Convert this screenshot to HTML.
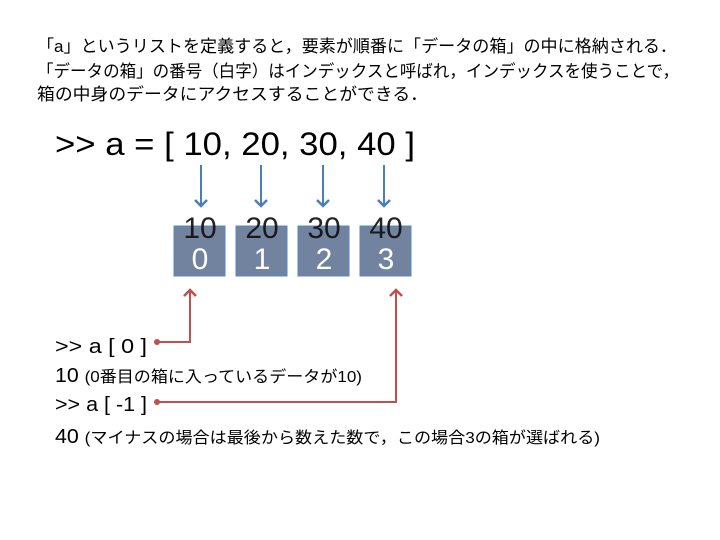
<!DOCTYPE html>
<html><head><meta charset="utf-8"><style>
html,body{margin:0;padding:0;background:#fff;}
svg{display:block;}
text{font-family:"Liberation Sans","Noto Sans CJK JP",sans-serif;}
</style></head><body>
<svg width="720" height="540" viewBox="0 0 720 540" xmlns="http://www.w3.org/2000/svg">
<defs>
<marker id="bh" markerWidth="14" markerHeight="14" refX="7" refY="7" orient="auto" markerUnits="userSpaceOnUse"><path d="M1,1 L7,7 L1,13" fill="none" stroke="#4a7ebb" stroke-width="2.5"/></marker>
<marker id="rh" markerWidth="14" markerHeight="14" refX="7" refY="7" orient="auto" markerUnits="userSpaceOnUse"><path d="M1,1 L7,7 L1,13" fill="none" stroke="#c0504d" stroke-width="2.5"/></marker>
</defs>
<g font-size="17" fill="#000">
<text x="37" y="52" textLength="640" lengthAdjust="spacingAndGlyphs">「a」というリストを定義すると，要素が順番に「データの箱」の中に格納される．</text>
<text x="37" y="77" textLength="642" lengthAdjust="spacingAndGlyphs">「データの箱」の番号（白字）はインデックスと呼ばれ，インデックスを使うことで，</text>
<text x="37" y="100" textLength="391" lengthAdjust="spacingAndGlyphs">箱の中身のデータにアクセスすることができる．</text>
</g>
<text x="55" y="155" font-size="32" textLength="360" lengthAdjust="spacingAndGlyphs">&gt;&gt; a =  [ 10,  20,  30,  40 ]</text>
<g stroke="#4a7ebb" stroke-width="2" marker-end="url(#bh)">
<line x1="201" y1="165" x2="201" y2="206"/>
<line x1="261" y1="165" x2="261" y2="206"/>
<line x1="323" y1="165" x2="323" y2="206"/>
<line x1="384" y1="165" x2="384" y2="206"/>
</g>
<g fill="#71839f" stroke="#5b86c6" stroke-width="1">
<rect x="174" y="226" width="51" height="50"/>
<rect x="236" y="226" width="51" height="50"/>
<rect x="298" y="226" width="51" height="50"/>
<rect x="360" y="226" width="51" height="50"/>
</g>
<g font-size="30" fill="#111" text-anchor="middle" opacity="0.92">
<text x="200" y="238">10</text><text x="262" y="238">20</text><text x="324" y="238">30</text><text x="386" y="238">40</text>
</g>
<g font-size="30" fill="#fff" text-anchor="middle">
<text x="200" y="269">0</text><text x="262" y="269">1</text><text x="324" y="269">2</text><text x="386" y="269">3</text>
</g>
<g stroke="#c0504d" stroke-width="2" fill="none">
<polyline points="157,342 190,342 190,290" marker-end="url(#rh)"/>
<polyline points="157,402 396,402 396,290" marker-end="url(#rh)"/>
</g>
<circle cx="157" cy="342" r="3" fill="#c0504d"/>
<circle cx="157" cy="402" r="3" fill="#c0504d"/>
<text x="55" y="353" font-size="20" textLength="92" lengthAdjust="spacingAndGlyphs">&gt;&gt; a [ 0 ]</text>
<text x="55" y="382" font-size="20" textLength="307" lengthAdjust="spacingAndGlyphs">10 <tspan font-size="16">(0番目の箱に入っているデータが10)</tspan></text>
<text x="55" y="411" font-size="20" textLength="92" lengthAdjust="spacingAndGlyphs">&gt;&gt; a [ -1 ]</text>
<text x="55" y="443" font-size="20" textLength="545" lengthAdjust="spacingAndGlyphs">40 <tspan font-size="16">(マイナスの場合は最後から数えた数で，この場合3の箱が選ばれる)</tspan></text>
</svg>
</body></html>
